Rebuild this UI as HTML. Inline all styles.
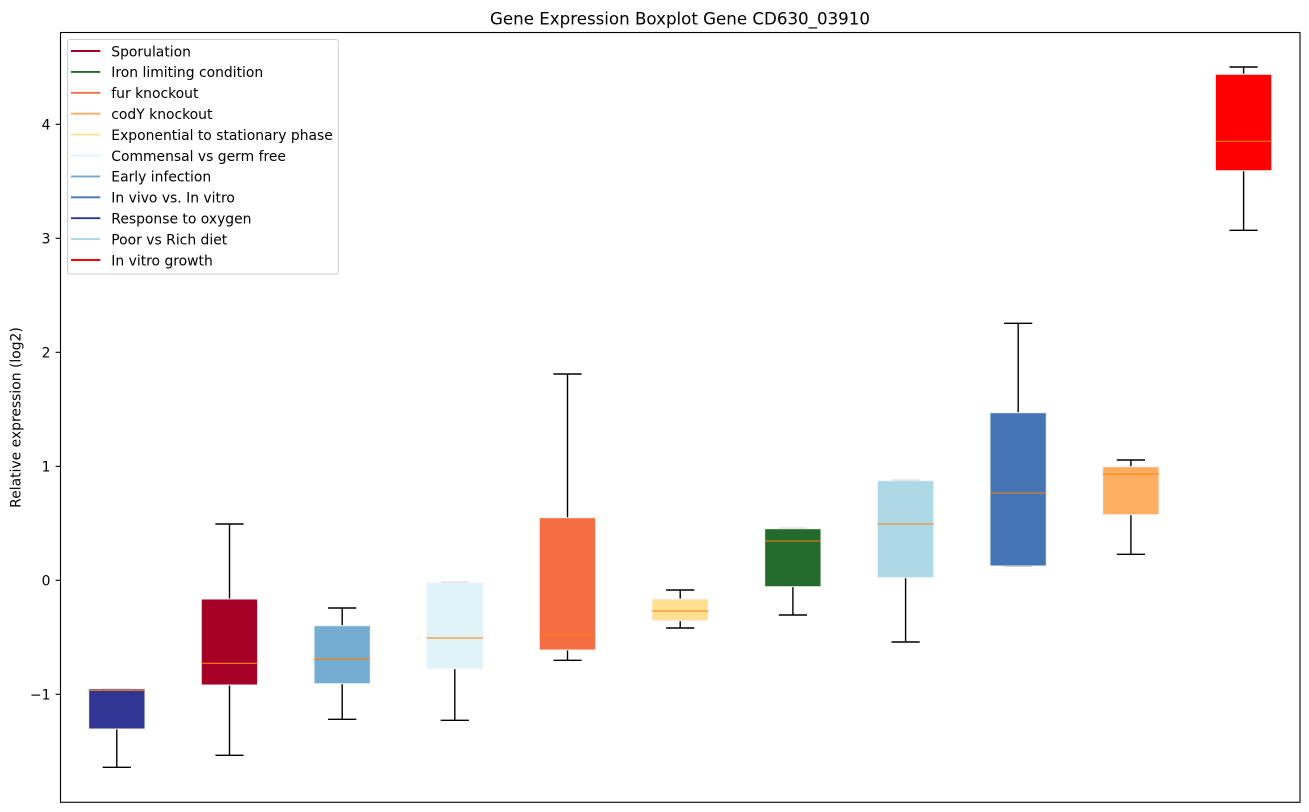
<!DOCTYPE html>
<html>
<head>
<meta charset="utf-8">
<style>
html,body{margin:0;padding:0;background:#fff;}
svg{display:block;}
text{font-family:"DejaVu Sans","Liberation Sans",sans-serif;fill:#000;}
</style>
</head>
<body>
<svg width="1309" height="812" viewBox="0 0 1309 812" xmlns="http://www.w3.org/2000/svg">
<rect x="0" y="0" width="1309" height="812" fill="#fff"/>
<!-- title -->
<text x="680" y="24.3" font-size="16.67" text-anchor="middle">Gene Expression Boxplot Gene CD630_03910</text>
<!-- y label -->
<text transform="translate(20.5,417.5) rotate(-90)" font-size="13.9" text-anchor="middle">Relative expression (log2)</text>
<!-- ticks -->
<g stroke="#000" stroke-width="1.1">
<line x1="55.6" y1="124.3" x2="60.5" y2="124.3"/>
<line x1="55.6" y1="238.3" x2="60.5" y2="238.3"/>
<line x1="55.6" y1="352.3" x2="60.5" y2="352.3"/>
<line x1="55.6" y1="466.3" x2="60.5" y2="466.3"/>
<line x1="55.6" y1="580.3" x2="60.5" y2="580.3"/>
<line x1="55.6" y1="694.3" x2="60.5" y2="694.3"/>
</g>
<g font-size="13.9" text-anchor="end">
<text x="50.5" y="129.3">4</text>
<text x="50.5" y="243.3">3</text>
<text x="50.5" y="357.3">2</text>
<text x="50.5" y="471.3">1</text>
<text x="50.5" y="585.3">0</text>
<text x="50.5" y="699.3">−1</text>
</g>

<!-- whiskers and caps -->
<g stroke="#000" stroke-width="1.4" fill="none">
<!-- 1 -->
<line x1="116.8" y1="729" x2="116.8" y2="767.3"/><line x1="102.7" y1="767.3" x2="130.9" y2="767.3"/>
<!-- 2 -->
<line x1="229.5" y1="599" x2="229.5" y2="524"/><line x1="215.4" y1="524" x2="243.6" y2="524"/>
<line x1="229.5" y1="685" x2="229.5" y2="755.3"/><line x1="215.4" y1="755.3" x2="243.6" y2="755.3"/>
<!-- 3 -->
<line x1="342.2" y1="625.7" x2="342.2" y2="608"/><line x1="328.1" y1="608" x2="356.3" y2="608"/>
<line x1="342.2" y1="683.7" x2="342.2" y2="719.3"/><line x1="328.1" y1="719.3" x2="356.3" y2="719.3"/>
<!-- 4 -->
<line x1="454.8" y1="668.7" x2="454.8" y2="720.3"/><line x1="440.7" y1="720.3" x2="468.9" y2="720.3"/>
<!-- 5 -->
<line x1="567.5" y1="517.7" x2="567.5" y2="374"/><line x1="553.4" y1="374" x2="581.6" y2="374"/>
<line x1="567.5" y1="650" x2="567.5" y2="660.3"/><line x1="553.4" y1="660.3" x2="581.6" y2="660.3"/>
<!-- 6 -->
<line x1="680.2" y1="599" x2="680.2" y2="590"/><line x1="666.1" y1="590" x2="694.3" y2="590"/>
<line x1="680.2" y1="620.7" x2="680.2" y2="628"/><line x1="666.1" y1="628" x2="694.3" y2="628"/>
<!-- 7 -->
<line x1="792.9" y1="586.7" x2="792.9" y2="615"/><line x1="778.8" y1="615" x2="807" y2="615"/>
<!-- 8 -->
<line x1="905.6" y1="577.7" x2="905.6" y2="642"/><line x1="891.5" y1="642" x2="919.7" y2="642"/>
<!-- 9 -->
<line x1="1018.2" y1="412.7" x2="1018.2" y2="323.3"/><line x1="1004.1" y1="323.3" x2="1032.3" y2="323.3"/>
<!-- 10 -->
<line x1="1130.9" y1="466.7" x2="1130.9" y2="460"/><line x1="1116.8" y1="460" x2="1145" y2="460"/>
<line x1="1130.9" y1="514.7" x2="1130.9" y2="554.3"/><line x1="1116.8" y1="554.3" x2="1145" y2="554.3"/>
<!-- 11 -->
<line x1="1243.6" y1="74.3" x2="1243.6" y2="67"/><line x1="1229.5" y1="67" x2="1257.7" y2="67"/>
<line x1="1243.6" y1="170.7" x2="1243.6" y2="230.3"/><line x1="1229.5" y1="230.3" x2="1257.7" y2="230.3"/>
</g>
<!-- caps coinciding with box edges (gray) -->
<g stroke="#aaa" stroke-width="1.4">
<line x1="102.7" y1="688.7" x2="130.9" y2="688.7"/>
<line x1="440.7" y1="582.4" x2="468.9" y2="582.4"/>
<line x1="778.8" y1="528.4" x2="807" y2="528.4"/>
<line x1="891.5" y1="480.4" x2="919.7" y2="480.4"/>
<line x1="1004.1" y1="566.3" x2="1032.3" y2="566.3"/>
</g>

<!-- boxes -->
<g stroke="#f4f4f4" stroke-width="1">
<rect x="88.7" y="688.7" width="56.3" height="40.3" fill="#313695"/>
<rect x="201.3" y="599" width="56.3" height="86" fill="#a50026"/>
<rect x="314" y="625.7" width="56.3" height="58" fill="#74add1"/>
<rect x="426.7" y="582.7" width="56.3" height="86" fill="#e0f3f8"/>
<rect x="539.3" y="517.7" width="56.3" height="132.3" fill="#f46d43"/>
<rect x="652" y="599" width="56.3" height="21.7" fill="#fee090"/>
<rect x="764.7" y="528.7" width="56.3" height="58" fill="#236b2d"/>
<rect x="877.4" y="480.7" width="56.3" height="97" fill="#add8e6"/>
<rect x="990" y="412.7" width="56.3" height="153.3" fill="#4575b4"/>
<rect x="1102.7" y="466.7" width="56.3" height="48" fill="#fdae61"/>
<rect x="1215.4" y="74.3" width="56.3" height="96.4" fill="#ff0000"/>
</g>

<!-- medians -->
<g stroke="#ff7f0e" stroke-width="1.1">
<line x1="88.7" y1="690.3" x2="145" y2="690.3"/>
<line x1="201.3" y1="663.3" x2="257.6" y2="663.3"/>
<line x1="314" y1="659.3" x2="370.3" y2="659.3"/>
<line x1="426.7" y1="638" x2="483" y2="638"/>
<line x1="539.3" y1="635" x2="595.6" y2="635"/>
<line x1="652" y1="611" x2="708.3" y2="611"/>
<line x1="764.7" y1="541" x2="821" y2="541"/>
<line x1="877.4" y1="524" x2="933.7" y2="524"/>
<line x1="990" y1="493" x2="1046.3" y2="493"/>
<line x1="1102.7" y1="474" x2="1159" y2="474"/>
<line x1="1215.4" y1="141.3" x2="1271.7" y2="141.3"/>
</g>

<!-- axes frame -->
<rect x="60.5" y="32.5" width="1239.5" height="769.8" fill="none" stroke="#000" stroke-width="1.1"/>

<!-- legend -->
<rect x="67.5" y="39.5" width="270.8" height="234.5" rx="2.5" ry="2.5" fill="#fff" fill-opacity="0.8" stroke="#cccccc" stroke-width="1"/>
<g stroke-width="1.9">
<line x1="71" y1="51" x2="100.3" y2="51" stroke="#a50026"/>
<line x1="71" y1="71.9" x2="100.3" y2="71.9" stroke="#236b2d"/>
<line x1="71" y1="92.8" x2="100.3" y2="92.8" stroke="#f46d43"/>
<line x1="71" y1="113.7" x2="100.3" y2="113.7" stroke="#fdae61"/>
<line x1="71" y1="134.6" x2="100.3" y2="134.6" stroke="#fee090"/>
<line x1="71" y1="155.5" x2="100.3" y2="155.5" stroke="#e0f3f8"/>
<line x1="71" y1="176.4" x2="100.3" y2="176.4" stroke="#74add1"/>
<line x1="71" y1="197.3" x2="100.3" y2="197.3" stroke="#4575b4"/>
<line x1="71" y1="218.2" x2="100.3" y2="218.2" stroke="#313695"/>
<line x1="71" y1="239.1" x2="100.3" y2="239.1" stroke="#add8e6"/>
<line x1="71" y1="260" x2="100.3" y2="260" stroke="#ff0000"/>
</g>
<g font-size="13.9">
<text x="111.3" y="56.3">Sporulation</text>
<text x="111.3" y="77.2">Iron limiting condition</text>
<text x="111.3" y="98.1">fur knockout</text>
<text x="111.3" y="119">codY knockout</text>
<text x="111.3" y="139.9">Exponential to stationary phase</text>
<text x="111.3" y="160.8">Commensal vs germ free</text>
<text x="111.3" y="181.7">Early infection</text>
<text x="111.3" y="202.6">In vivo vs. In vitro</text>
<text x="111.3" y="223.5">Response to oxygen</text>
<text x="111.3" y="244.4">Poor vs Rich diet</text>
<text x="111.3" y="265.3">In vitro growth</text>
</g>
</svg>
</body>
</html>
